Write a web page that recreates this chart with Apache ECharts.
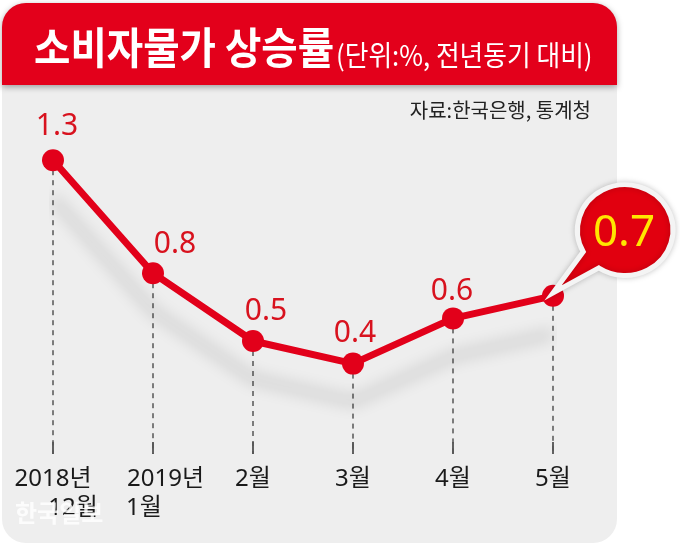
<!DOCTYPE html>
<html>
<head>
<meta charset="utf-8">
<script src="https://cdn.jsdelivr.net/npm/echarts@6/dist/echarts.min.js"></script>
<style>html,body{margin:0;padding:0;background:#fff;}#c{width:680px;height:547px;}</style>
</head>
<body>
<div id="c"></div>
<script>
// ---- data ----
const titleMain = '소비자물가 상승률';
const titleSub = '(단위:%, 전년동기 대비)';
const sourceText = '자료:한국은행, 통계청';
const watermark = '한국일보';
const categories = ['2018년\n12월', '2019년\n1월', '2월', '3월', '4월', '5월'];
const values = [1.3, 0.8, 0.5, 0.4, 0.6, 0.7];
const highlightIndex = 5;

// ---- styles ----
const RED = '#e2001a';
const LABEL_RED = '#d8121e';
const FONT = "'Noto Sans', 'Noto Sans CJK KR', sans-serif";
const KFONT = "'Noto Sans CJK KR', 'Noto Sans', sans-serif";
const labelOffsets = [[4, -4], [22, 1], [13, 0], [2, 0], [-1, 3], [0, 0]];
const richKeys = [['a', 'b0'], ['a1', 'b1'], ['a'], ['a'], ['a'], ['a']];

const chart = echarts.init(document.getElementById('c'), null, {renderer: 'canvas'});

const baseAxisText = {fontSize: 24, lineHeight: 29, color: '#1a1a1a', fontFamily: FONT};

const seriesData = values.map((v, i) => ({
  value: v,
  label: {show: i !== highlightIndex, offset: labelOffsets[i]}
}));

const option = {
  backgroundColor: '#ffffff',
  animation: false,
  grid: {left: 53, right: 127, top: 115, bottom: 93},
  xAxis: {
    type: 'category',
    data: categories,
    boundaryGap: false,
    axisLine: {show: false},
    axisTick: {show: true, inside: true, length: 12, lineStyle: {color: '#333', width: 1.5}},
    axisLabel: {
      margin: 11,
      interval: 0,
      formatter: (v, i) => v.split('\n').map((s, k) => '{' + richKeys[i][k] + '|' + s + '}').join('\n'),
      rich: {
        a: Object.assign({}, baseAxisText),
        b0: Object.assign({}, baseAxisText, {padding: [0, 0, 0, 40]}),
        a1: Object.assign({}, baseAxisText, {padding: [0, 0, 0, 25]}),
        b1: Object.assign({}, baseAxisText, {padding: [0, 18, 0, 0]})
      }
    },
    splitLine: {show: false}
  },
  yAxis: {
    type: 'value',
    min: 0,
    max: 1.5,
    show: false,
    splitLine: {show: false}
  },
  graphic: [
    {
      type: 'rect', z: 0,
      shape: {x: 2, y: 3, width: 615, height: 540, r: 24},
      style: {fill: '#eeeeee'}
    },
    {
      type: 'rect', z: 1,
      shape: {x: 2, y: 3, width: 615, height: 82, r: [24, 24, 0, 0]},
      style: {fill: '#e3001b', shadowBlur: 6, shadowOffsetY: 2, shadowColor: 'rgba(0,0,0,0.35)'}
    },
    {
      type: 'text', z: 2,
      x: 34, y: 46, scaleX: 0.92,
      style: {
        text: '{m|' + titleMain + '}{s|' + titleSub + '}',
        fill: '#ffffff',
        verticalAlign: 'middle',
        rich: {
          m: {fontSize: 43, fontWeight: 'bold', fontFamily: KFONT, fill: '#fff', verticalAlign: 'bottom', lineHeight: 46},
          s: {fontSize: 28, fontWeight: 'normal', fontFamily: KFONT, fill: '#fff', verticalAlign: 'bottom', lineHeight: 40, padding: [0, 0, 0, 2]}
        }
      }
    },
    {
      type: 'text', z: 2,
      x: 591, y: 110,
      style: {
        text: sourceText,
        fill: '#222',
        font: '20px ' + KFONT,
        align: 'right',
        verticalAlign: 'middle'
      }
    },
    {
      type: 'text', z: 0.5,
      x: 15, y: 513,
      style: {
        text: watermark,
        fill: 'rgba(255,255,255,0.8)',
        font: 'bold 24px ' + KFONT,
        verticalAlign: 'middle'
      }
    }
  ],
  series: [
    {
      type: 'line',
      z: 3,
      data: seriesData,
      symbol: 'circle',
      symbolSize: 22,
      itemStyle: {color: RED},
      lineStyle: {
        color: RED, width: 7,
        shadowColor: 'rgba(0,0,0,0.18)', shadowBlur: 16, shadowOffsetY: 38
      },
      label: {
        show: true,
        position: 'top',
        distance: 4,
        fontSize: 30,
        fontFamily: FONT,
        color: LABEL_RED
      },
      markLine: {
        z: 1,
        silent: true,
        symbol: ['none', 'none'],
        label: {show: false},
        lineStyle: {color: '#555', width: 1.5, type: [5, 5]},
        data: values.map((v, i) => [{coord: [i, v]}, {coord: [i, 0]}])
      },
      markPoint: {
        silent: true,
        symbol: 'path://M45.1 86.2 L0 112 L29.7 69.4 A47 47 0 1 1 45.1 86.2 Z',
        symbolSize: [120, 114],
        symbolKeepAspect: true,
        symbolOffset: [60, -57],
        itemStyle: {
          color: '#e1000f',
          borderColor: '#f4f4f4',
          borderWidth: 5,
          shadowBlur: 6,
          shadowColor: 'rgba(0,0,0,0.18)'
        },
        label: {
          show: true,
          position: 'inside',
          offset: [11, -5],
          formatter: '{c}',
          fontSize: 44,
          fontFamily: FONT,
          color: '#ffe600'
        },
        data: [{coord: [highlightIndex, values[highlightIndex]], value: values[highlightIndex]}]
      }
    }
  ]
};

chart.setOption(option);
</script>
</body>
</html>
